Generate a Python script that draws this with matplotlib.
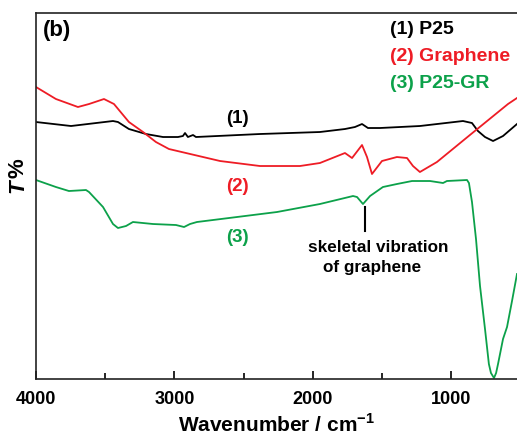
import numpy as np
import matplotlib
matplotlib.use("Agg")
import matplotlib.pyplot as plt
from matplotlib.ticker import MultipleLocator

plt.rcParams['font.family'] = ['Liberation Sans', 'DejaVu Sans']
plt.rcParams['font.weight'] = 'bold'
plt.rcParams['mathtext.fontset'] = 'custom'
plt.rcParams['mathtext.rm'] = 'Liberation Sans:bold'
plt.rcParams['mathtext.bf'] = 'Liberation Sans:bold'

# FTIR spectra (transmittance, arbitrary offset units)
wn_p25 = [4000, 3747, 3444, 3408, 3329, 3206, 3083, 2975, 2939, 2924, 2903, 2866,
          2845, 2383, 1950, 1769, 1697, 1646, 1603, 1516, 1228, 917, 852, 809,
          758, 700, 628, 527]
t_p25 = [257, 253, 258, 257, 250, 245, 242, 242, 243, 246, 242, 244,
         242, 245, 247, 250, 252, 255, 251, 251, 253, 258, 256, 248,
         242, 238, 243, 255]

wn_gr = [4000, 3856, 3697, 3617, 3509, 3437, 3329, 3227, 3134, 3040, 2917, 2671,
         2383, 2094, 1950, 1769, 1718, 1646, 1610, 1574, 1502, 1394, 1321, 1278,
         1228, 1105, 867, 592, 527]
t_gr = [292, 280, 272, 275, 280, 275, 257, 247, 237, 230, 226, 218,
        213, 213, 216, 226, 221, 234, 222, 205, 218, 222, 221, 213,
        207, 217, 244, 275, 281]

wn_p25gr = [4000, 3856, 3762, 3639, 3617, 3516, 3444, 3408, 3350, 3300, 3155, 2989,
            2931, 2888, 2838, 2260, 1950, 1711, 1682, 1639, 1588, 1495, 1394, 1285,
            1155, 1061, 1033, 888, 874, 852, 823, 794, 758, 730, 715, 693,
            678, 664, 628, 599, 563, 527]
t_p25gr = [199, 192, 188, 189, 187, 172, 155, 151, 153, 157, 155, 154,
           152, 155, 157, 167, 175, 183, 182, 175, 183, 192, 195, 198,
           198, 196, 198, 199, 196, 177, 140, 93, 50, 15, 6, 1,
           6, 15, 40, 52, 78, 105]

series_names = ["(1) P25", "(2) Graphene", "(3) P25-GR"]
colors = ["#000000", "#ee1c25", "#0ca14a"]

fig = plt.figure(figsize=(5.17, 4.35), dpi=100)
ax = fig.add_axes([0.0696, 0.1264, 0.9304, 0.8414])

ax.plot(wn_p25, t_p25, color=colors[0], lw=1.3)
ax.plot(wn_gr, t_gr, color=colors[1], lw=1.3)
ax.plot(wn_p25gr, t_p25gr, color=colors[2], lw=1.3)

ax.set_xlim(4000, 527)
ax.set_ylim(0, 366)

ax.spines['right'].set_visible(False)
for s in ['left', 'top', 'bottom']:
    ax.spines[s].set_linewidth(1.2)
    ax.spines[s].set_color('#222222')

ax.xaxis.set_major_locator(MultipleLocator(1000))
ax.xaxis.set_minor_locator(MultipleLocator(500))
ax.tick_params(axis='x', which='major', direction='in', length=6, width=1.2,
               labelsize=13, pad=8, top=False)
ax.tick_params(axis='x', which='minor', direction='in', length=4, width=1.2, top=False)
ax.set_yticks([])
for lab in ax.get_xticklabels():
    lab.set_fontweight('bold')

ax.set_xlabel("Wavenumber / cm$^{-1}$", fontsize=15, fontweight='bold', labelpad=4)

# y label: italic T + %
fig.text(0.035, 0.571, "T", rotation=90, fontsize=16, fontweight='bold',
         style='italic', ha='center', va='center')
fig.text(0.035, 0.6126, "%", rotation=90, fontsize=16, fontweight='bold',
         ha='center', va='center')

ax.text(0.015, 350, "(b)", transform=ax.get_yaxis_transform(), fontsize=16,
        fontweight='bold', va='center', ha='left')

# curve labels
ax.text(2549, 262, "(1)", color=colors[0], fontsize=13.5, fontweight='bold', ha='center', va='center')
ax.text(2549, 194, "(2)", color=colors[1], fontsize=13.5, fontweight='bold', ha='center', va='center')
ax.text(2549, 143, "(3)", color=colors[2], fontsize=13.5, fontweight='bold', ha='center', va='center')

# legend text
for name, c, y in zip(series_names, colors, [351, 324, 297]):
    ax.text(1443, y, name, color=c, fontsize=14, fontweight='bold', ha='left', va='center')

# annotation
ax.plot([1625, 1625], [148, 172], color='black', lw=1.5)
ax.text(1531, 128, "skeletal vibration", fontsize=12.3, fontweight='bold',
        ha='center', va='baseline')
ax.text(1574, 108, "of graphene", fontsize=12.3, fontweight='bold',
        ha='center', va='baseline')

fig.savefig("out.png", dpi=100)
